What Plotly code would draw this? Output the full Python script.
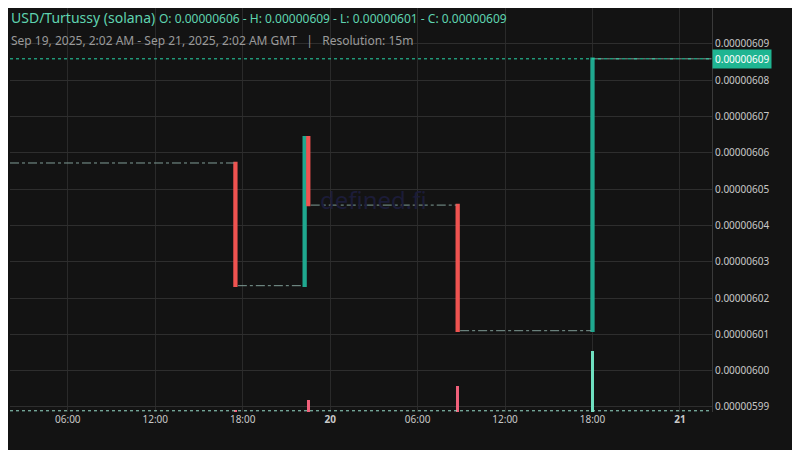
import plotly.graph_objects as go

# key 15m candles (where price moved)
candle_time = ["2025-09-19 17:30", "2025-09-19 22:15", "2025-09-19 22:30",
               "2025-09-20 08:45", "2025-09-20 18:00"]
candle_open = [6.0572e-6, 6.0234e-6, 6.0643e-6, 6.0456e-6, 6.0110e-6]
candle_high = [6.0572e-6, 6.0643e-6, 6.0643e-6, 6.0456e-6, 6.0859e-6]
candle_low = [6.0234e-6, 6.0234e-6, 6.0456e-6, 6.0110e-6, 6.0110e-6]
candle_close = [6.0234e-6, 6.0643e-6, 6.0456e-6, 6.0110e-6, 6.0859e-6]

# flat (no trade) stretches between moves
flat_start = ["2025-09-19 02:02", "2025-09-19 17:40", "2025-09-19 22:40",
              "2025-09-20 08:55", "2025-09-20 18:10"]
flat_end = ["2025-09-19 17:25", "2025-09-19 22:10", "2025-09-20 08:40",
            "2025-09-20 17:55", "2025-09-21 02:10"]
flat_price = [6.0572e-6, 6.0234e-6, 6.0456e-6, 6.0110e-6, 6.0859e-6]

vol_time = ["2025-09-19 17:30", "2025-09-19 22:30", "2025-09-20 08:45", "2025-09-20 18:00"]
vol_value = [0.5, 3.0, 6.5, 15.0]
vol_color = ["#f0607a", "#f0607a", "#f0607a", "#6fe0c0"]

last_price = 6.0859e-6
tick_vals = [5.99e-6 + i * 1e-8 for i in range(11)]
x_ticks = ["2025-09-19 06:00", "2025-09-19 12:00", "2025-09-19 18:00", "2025-09-20 00:00",
           "2025-09-20 06:00", "2025-09-20 12:00", "2025-09-20 18:00", "2025-09-21 00:00"]
x_labels = ["06:00", "12:00", "18:00", "<b>20</b>", "06:00", "12:00", "18:00", "<b>21</b>"]

seg_x, seg_y = [], []
for s, e, p in zip(flat_start, flat_end, flat_price):
    seg_x += [s, e, None]
    seg_y += [p, p, None]

fig = go.Figure()
fig.add_annotation(x="2025-09-20 03:00", y=6.0471e-6, text="defined.fi", showarrow=False,
                   font=dict(color="#1c1c38", size=24), xanchor="center")
fig.add_trace(go.Bar(x=vol_time, y=vol_value, marker_color=vol_color, marker_line_width=0,
                     width=15 * 60 * 1000 * 0.7, yaxis="y2", showlegend=False))
fig.add_trace(go.Scatter(x=seg_x, y=seg_y, mode="lines",
                         line=dict(color="#7f9c96", width=1, dash="dashdot"), showlegend=False))
fig.add_trace(go.Candlestick(
    x=candle_time, open=candle_open, high=candle_high, low=candle_low, close=candle_close,
    increasing=dict(line=dict(color="#1fa88f", width=2.5), fillcolor="#1fa88f"),
    decreasing=dict(line=dict(color="#ef5350", width=2.5), fillcolor="#ef5350"),
    whiskerwidth=0, showlegend=False))

fig.add_shape(type="line", xref="paper", x0=0, x1=1, y0=last_price, y1=last_price,
              line=dict(color="#26d6a8", width=1, dash="dot"))
fig.add_shape(type="line", xref="paper", yref="paper", x0=0, x1=1, y0=0.003, y1=0.003,
              line=dict(color="#9adfcc", width=1, dash="dot"))

fig.add_annotation(x=1, xref="paper", y=last_price, xanchor="left", yanchor="middle",
                   text="0.00000609", showarrow=False, bgcolor="#1fb592",
                   font=dict(color="white", size=10), borderpad=2)
fig.add_annotation(xref="paper", yref="paper", x=-0.002, y=1.0, xanchor="left", yanchor="bottom",
                   showarrow=False, font=dict(color="#5fd3b0", size=14),
                   text="USD/Turtussy (solana) <span style='font-size:12px'>O: 0.00000606 - H: 0.00000609 - L: 0.00000601 - C: 0.00000609</span>",
                   yshift=-21)
fig.add_annotation(xref="paper", yref="paper", x=-0.002, y=1.0, xanchor="left", yanchor="bottom",
                   showarrow=False, font=dict(color="#9a9a9a", size=12), yshift=-43,
                   text="Sep 19, 2025, 2:02 AM - Sep 21, 2025, 2:02 AM GMT &nbsp;&nbsp;|&nbsp;&nbsp; Resolution: 15m")

fig.update_layout(
    width=800, height=450, paper_bgcolor="#131313", plot_bgcolor="#131313",
    margin=dict(l=2, r=96, t=0, b=46),
    font=dict(family="Noto Sans", color="#c8c8c8", size=10),
    xaxis=dict(type="date", range=["2025-09-19 02:02", "2025-09-21 02:12"], rangeslider_visible=False,
               tickvals=x_ticks, ticktext=x_labels, gridcolor="#2a2a2a", showline=False,
               zeroline=False, ticks=""),
    yaxis=dict(side="right", range=[5.9886e-6, 6.0999e-6], tickvals=tick_vals, tickformat=".8f",
               gridcolor="#2e2e2e", showline=True, linecolor="#3a3a3a", zeroline=False),
    yaxis2=dict(overlaying="y", range=[0, 100], visible=False),
    bargap=0,
)
fig.write_html("out.html")
